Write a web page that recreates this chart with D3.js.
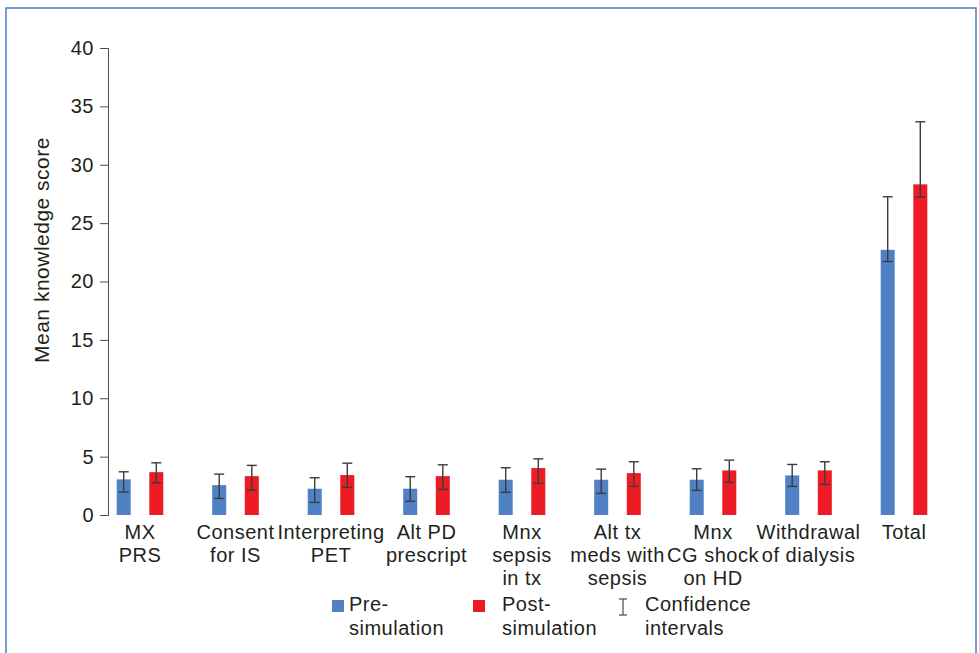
<!DOCTYPE html>
<html>
<head>
<meta charset="utf-8">
<script src="https://cdn.jsdelivr.net/npm/d3@7"></script>
<style>
  body { margin: 0; background: #fff; }
  svg { display: block; }
  text { font-family: "Liberation Sans", Arial, Helvetica, sans-serif; fill: #231f20; letter-spacing: 0.5px; }
</style>
</head>
<body>
<svg id="chart" width="979" height="653"></svg>
<script>
// Knowledge score per topic, before and after the simulation session
const categoryLines = [
  ["MX", "PRS"],
  ["Consent", "for IS"],
  ["Interpreting", "PET"],
  ["Alt PD", "prescript"],
  ["Mnx", "sepsis", "in tx"],
  ["Alt tx", "meds with", "sepsis"],
  ["Mnx", "CG shock", "on HD"],
  ["Withdrawal", "of dialysis"],
  ["Total"]
];
const categories = categoryLines.map(l => l.join(" "));

const preMean  = [3.05, 2.56, 2.25, 2.25, 3.02, 3.02, 3.02, 3.39, 22.71];
const preLow   = [1.97, 1.42, 1.08, 1.17, 1.94, 1.85, 2.11, 2.45, 21.71];
const preHigh  = [3.70, 3.50, 3.19, 3.28, 4.05, 3.93, 3.96, 4.33, 27.26];

const postMean = [3.67, 3.33, 3.42, 3.33, 4.02, 3.59, 3.82, 3.82, 28.32];
const postLow  = [2.76, 2.14, 2.37, 2.19, 2.71, 2.45, 2.79, 2.62, 27.24];
const postHigh = [4.47, 4.25, 4.44, 4.30, 4.81, 4.56, 4.70, 4.56, 33.68];

const seriesKeys   = ["pre", "post"];
const seriesNames  = [["Pre-", "simulation"], ["Post-", "simulation"]];
const seriesColors = ["#4f81c4", "#ed1c24"];
const ciLabel      = ["Confidence", "intervals"];
const yTicks       = [0, 5, 10, 15, 20, 25, 30, 35, 40];
const yTitle       = "Mean knowledge score";

const seriesData = {
  pre:  categories.map((c, i) => ({ cat: c, v: preMean[i],  lo: preLow[i],  hi: preHigh[i] })),
  post: categories.map((c, i) => ({ cat: c, v: postMean[i], lo: postLow[i], hi: postHigh[i] }))
};

const svg = d3.select("#chart");

// outer frame (open at the bottom edge)
svg.append("path")
  .attr("d", "M6,653V8H976V653")
  .attr("fill", "none")
  .attr("stroke", "#4a7fc1")
  .attr("stroke-width", 1.5);

const x  = d3.scalePoint().domain(categories).range([140, 904]);
const xs = d3.scaleBand().domain(seriesKeys).range([-32.6, 32.6]).paddingInner(0.57).paddingOuter(0.285);
const y  = d3.scaleLinear().domain([0, 40]).range([515, 48]);

// value axis
const yAxis = svg.append("g")
  .attr("transform", "translate(108,0)")
  .call(d3.axisLeft(y).tickValues(yTicks).tickSize(8).tickPadding(6));
yAxis.selectAll("path, line").attr("stroke", "#4d4d4d").attr("stroke-width", 1);
yAxis.selectAll("text").attr("font-size", 20).attr("fill", "#231f20")
  .style("font-family", '"Liberation Sans", Arial, sans-serif');

svg.append("text")
  .attr("transform", "translate(49,250) rotate(-90)")
  .attr("text-anchor", "middle")
  .attr("font-size", 21)
  .text(yTitle);

// bars
seriesKeys.forEach((k, si) => {
  const g = svg.append("g");
  g.selectAll("rect").data(seriesData[k]).join("rect")
    .attr("x", d => x(d.cat) + xs(k))
    .attr("width", xs.bandwidth())
    .attr("y", d => y(d.v))
    .attr("height", d => y(0) - y(d.v))
    .attr("fill", seriesColors[si]);
});

// confidence intervals
const capHalf = 5;
seriesKeys.forEach(k => {
  const g = svg.append("g").attr("stroke", "#3c3c3c").attr("stroke-width", 1.4);
  seriesData[k].forEach(d => {
    const cx = x(d.cat) + xs(k) + xs.bandwidth() / 2;
    g.append("line").attr("x1", cx).attr("x2", cx).attr("y1", y(d.hi)).attr("y2", y(d.lo));
    g.append("line").attr("x1", cx - capHalf).attr("x2", cx + capHalf).attr("y1", y(d.hi)).attr("y2", y(d.hi));
    g.append("line").attr("x1", cx - capHalf).attr("x2", cx + capHalf).attr("y1", y(d.lo)).attr("y2", y(d.lo));
  });
});

// category labels
const lab = svg.append("g").attr("font-size", 20).attr("text-anchor", "middle");
categories.forEach((c, i) => {
  const t = lab.append("text").attr("x", x(c)).attr("y", 539);
  categoryLines[i].forEach((line, j) => {
    t.append("tspan").attr("x", x(c)).attr("y", 539 + j * 23).text(line);
  });
});

// legend
const legend = svg.append("g").attr("font-size", 20);
const legendX = [332, 473];
seriesKeys.forEach((k, si) => {
  legend.append("rect")
    .attr("x", legendX[si]).attr("y", 600)
    .attr("width", 12).attr("height", 12)
    .attr("fill", seriesColors[si]);
  const t = legend.append("text");
  seriesNames[si].forEach((line, j) => {
    t.append("tspan").attr("x", legendX[si] + (si === 0 ? 17 : 29)).attr("y", 611 + j * 24).text(line);
  });
});
const ci = legend.append("g").attr("stroke", "#555").attr("stroke-width", 1.3);
ci.append("line").attr("x1", 623).attr("x2", 623).attr("y1", 599).attr("y2", 615);
ci.append("line").attr("x1", 619).attr("x2", 627).attr("y1", 599).attr("y2", 599);
ci.append("line").attr("x1", 619).attr("x2", 627).attr("y1", 615).attr("y2", 615);
const ct = legend.append("text");
ciLabel.forEach((line, j) => {
  ct.append("tspan").attr("x", 645).attr("y", 611 + j * 24).text(line);
});
</script>
</body>
</html>
